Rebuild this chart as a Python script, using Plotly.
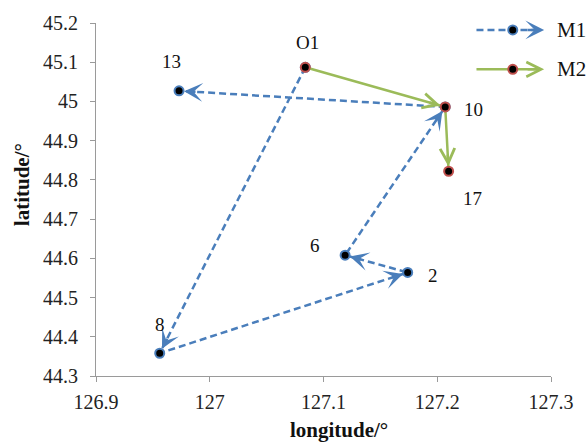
import math
import plotly.graph_objects as go

# Route M1: station visiting order and coordinates
m1_names = ["O1", "8", "2", "6", "10", "13"]
m1_lon = [127.084, 126.956, 127.174, 127.119, 127.207, 126.973]
m1_lat = [45.087, 44.358, 44.564, 44.608, 44.986, 45.027]

# Route M2
m2_names = ["O1", "10", "17"]
m2_lon = [127.084, 127.207, 127.210]
m2_lat = [45.087, 44.986, 44.822]

# Station labels and their pixel offsets from the marker
label_names = ["O1", "13", "10", "17", "6", "2", "8"]
label_shift = {"O1": (2, 25), "13": (-8, 29), "10": (28, -3), "17": (24, -27),
               "6": (-30, 10), "2": (25, -3), "8": (0, 29)}

x_ticks = [126.9, 127.0, 127.1, 127.2, 127.3]
y_ticks = [44.3, 44.4, 44.5, 44.6, 44.7, 44.8, 44.9, 45.0, 45.1, 45.2]

BLUE = "#4a7ebb"
GREEN = "#9bbb59"
RED = "#c0504d"
FONT = "Liberation Serif"

W, H = 586, 446
ML, MR, MT, MB = 96, 26, 18, 70
PW, PH = W - ML - MR, H - MT - MB
X_RANGE = [126.9, 127.3]
Y_RANGE = [44.3, 45.2]
sx = PW / (X_RANGE[1] - X_RANGE[0])
sy = PH / (Y_RANGE[1] - Y_RANGE[0])

fig = go.Figure()

fig.add_trace(go.Scatter(
    x=m1_lon, y=m1_lat, mode="lines+markers", name="M1",
    line=dict(color=BLUE, width=2.5, dash="7px,4px"),
    marker=dict(size=9, color="black", line=dict(color=BLUE, width=2)),
    showlegend=False, hoverinfo="skip"))
fig.add_trace(go.Scatter(
    x=m2_lon, y=m2_lat, mode="lines+markers", name="M2",
    line=dict(color=GREEN, width=2.5),
    marker=dict(size=9, color="black", line=dict(color=RED, width=2)),
    showlegend=False, hoverinfo="skip"))


def arrow_heads(lons, lats, color, head, size):
    out = []
    for i in range(1, len(lons)):
        dx = (lons[i] - lons[i - 1]) * sx
        dy = -(lats[i] - lats[i - 1]) * sy
        d = math.hypot(dx, dy)
        L = 18
        out.append(dict(
            x=lons[i], y=lats[i], xref="x", yref="y", text="",
            showarrow=True, ax=-dx / d * L, ay=-dy / d * L,
            arrowhead=head, arrowsize=size, arrowwidth=2.5,
            arrowcolor=color, standoff=5))
    return out


annotations = []
annotations += arrow_heads(m1_lon, m1_lat, BLUE, 3, 1.25)
annotations += arrow_heads(m2_lon, m2_lat, GREEN, 5, 1.15)

# station labels
pos = {}
for n, lo, la in zip(m1_names, m1_lon, m1_lat):
    pos[n] = (lo, la)
for n, lo, la in zip(m2_names, m2_lon, m2_lat):
    pos[n] = (lo, la)
for n in label_names:
    lo, la = pos[n]
    xs, ys = label_shift[n]
    annotations.append(dict(
        x=lo, y=la, xref="x", yref="y", text=n, showarrow=False,
        xshift=xs, yshift=ys, font=dict(family=FONT, size=19, color="#111")))


def px_to_paper(px, py):
    return (px - ML) / PW, (MT + PH - py) / PH


# custom legend drawn with shapes and arrow annotations
shapes = []
legend_rows = [("M1", BLUE, BLUE, "7px,4px", 3, 1.25, 25),
               ("M2", GREEN, RED, "solid", 5, 1.15, 65)]
for name, lc, mc, dash, head, hsize, py in legend_rows:
    x0, yy = px_to_paper(484, py)
    x1, _ = px_to_paper(548, py)
    xm, _ = px_to_paper(521, py)
    xa, _ = px_to_paper(553, py)
    xt, _ = px_to_paper(564, py)
    shapes.append(dict(type="line", xref="paper", yref="paper",
                       x0=x0, x1=x1, y0=yy, y1=yy,
                       line=dict(color=lc, width=2.5, dash=dash)))
    shapes.append(dict(type="circle", xref="paper", yref="paper",
                       xsizemode="pixel", ysizemode="pixel",
                       xanchor=xm, yanchor=yy, x0=-4.5, x1=4.5, y0=-4.5, y1=4.5,
                       fillcolor="black", line=dict(color=mc, width=2)))
    annotations.append(dict(x=xa, y=yy, xref="paper", yref="paper", text="",
                            showarrow=True, ax=-18, ay=0, arrowhead=head,
                            arrowsize=hsize, arrowwidth=2.5, arrowcolor=lc,
                            standoff=0))
    annotations.append(dict(x=xt, y=yy, xref="paper", yref="paper", text=name,
                            showarrow=False, xanchor="left", yanchor="middle",
                            font=dict(family=FONT, size=21, color="#111")))

# axis titles
tx, ty = px_to_paper(344, 431)
annotations.append(dict(x=tx, y=ty, xref="paper", yref="paper",
                        text="<b>longitude/°</b>", showarrow=False,
                        xanchor="center", yanchor="middle",
                        font=dict(family=FONT, size=21, color="#111")))
tx, ty = px_to_paper(20, 182)
annotations.append(dict(x=tx, y=ty, xref="paper", yref="paper",
                        text="<b>latitude/°</b>", showarrow=False,
                        textangle=-90, xanchor="center", yanchor="middle",
                        font=dict(family=FONT, size=21, color="#111")))

axis_common = dict(
    showgrid=False, zeroline=False, showline=True, linecolor="#9a9a9a",
    linewidth=1.2, ticks="outside", ticklen=5, tickcolor="#9a9a9a",
    tickwidth=1.2, tickfont=dict(family=FONT, size=20, color="#222"),
)

fig.update_layout(
    width=W, height=H,
    margin=dict(l=ML, r=MR, t=MT, b=MB),
    plot_bgcolor="white", paper_bgcolor="white",
    xaxis=dict(range=X_RANGE, tickvals=x_ticks,
               ticktext=[f"{v:g}" for v in x_ticks],
               ticklabelstandoff=3, **axis_common),
    yaxis=dict(range=Y_RANGE, tickvals=y_ticks,
               ticktext=[f"{v:g}" for v in y_ticks],
               ticklabelstandoff=8, **axis_common),
    annotations=annotations,
    shapes=shapes,
    showlegend=False,
)

fig.write_html("out.html")
